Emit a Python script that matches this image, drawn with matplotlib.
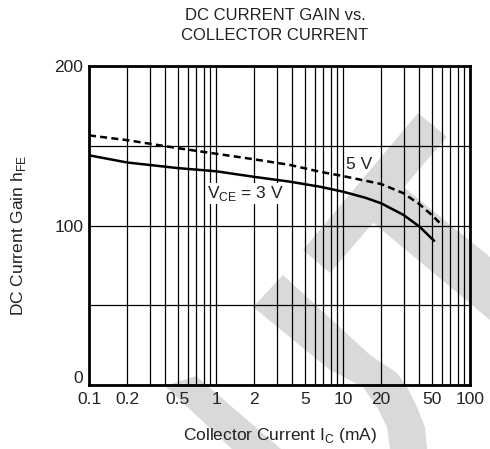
import matplotlib
matplotlib.use("Agg")
import matplotlib.pyplot as plt
import matplotlib.transforms as mtransforms
from matplotlib.patches import Polygon
from matplotlib.ticker import FixedLocator, NullFormatter

plt.rcParams['font.family'] = ['Liberation Sans', 'DejaVu Sans']
plt.rcParams['mathtext.fontset'] = 'custom'
plt.rcParams['mathtext.rm'] = 'Liberation Sans'

# VCE = 3 V (solid)
ic_3v = [0.1, 0.2, 0.5, 1, 2, 3.8, 6.6, 10, 15, 20, 30, 40, 52]
hfe_3v = [144, 139.5, 136, 134, 130.5, 127.5, 124.3, 121.2, 117.4, 113.9,
          106.6, 99.3, 90.5]

# VCE = 5 V (dashed)
ic_5v = [0.1, 0.2, 0.5, 1, 2, 3.8, 6.6, 10, 20, 30, 40, 50, 60]
hfe_5v = [156.5, 153.5, 148.5, 145, 141.5, 138, 133.7, 131, 126, 120.2,
          113.3, 106.6, 100.3]

x_ticks = [0.1, 0.2, 0.5, 1, 2, 5, 10, 20, 50, 100]
x_tick_labels = ['0.1', '0.2', '0.5', '1', '2', '5', '10', '20', '50', '100']
y_ticks = [0, 100, 200]
y_grid = [50, 150]

TXT = '#222222'
W, H = 490, 449
fig = plt.figure(figsize=(W / 100, H / 100), dpi=100)

# light grey watermark strokes behind the chart (pixel coords, y down)
wm_shapes = [
    [(418, 113), (447, 137), (330, 273), (303, 250)],
    [(395, 180), (490, 257), (490, 320), (365, 216)],
    [(283, 275), (370, 355), (397, 373), (407, 387), (417, 407), (425, 427),
     (427, 449), (390, 449), (387, 427), (377, 407), (363, 387), (330, 370),
     (253, 307)],
    [(165, 386), (196, 376), (281, 449), (232, 449)],
]
for pts in wm_shapes:
    poly = Polygon([(x / W, 1 - y / H) for x, y in pts], closed=True,
                   transform=fig.transFigure, facecolor='#d9d9d9',
                   edgecolor='none', zorder=-1)
    fig.patches.append(poly)

ax = fig.add_axes([89 / W, 1 - 385 / H, (470 - 89) / W, (385 - 66) / H])
ax.set_facecolor('none')
ax.set_xscale('log')
ax.set_xlim(0.1, 100)
ax.set_ylim(0, 200)

ax.set_xticks(x_ticks)
ax.set_xticklabels(x_tick_labels)
ax.xaxis.set_minor_locator(FixedLocator(
    [m * 10.0 ** e for e in (-1, 0, 1) for m in range(2, 10)]))
ax.xaxis.set_minor_formatter(NullFormatter())
ax.set_yticks(y_ticks)
ax.set_yticks(y_grid, minor=True)
ax.tick_params(which='both', length=0, labelsize=12.5, colors=TXT)
ax.tick_params(axis='x', pad=5)
ax.tick_params(axis='y', pad=4)
ax.grid(True, which='both', color='black', linewidth=0.9)
ax.set_axisbelow(True)
for s in ax.spines.values():
    s.set_linewidth(2)

# the "0" label sits just above the bottom axis line
zero_lbl = ax.get_yticklabels()[0]
zero_lbl.set_transform(zero_lbl.get_transform() +
                       mtransforms.ScaledTranslation(0, 6 / 72, fig.dpi_scale_trans))

ax.plot(ic_3v, hfe_3v, color='black', linewidth=1.8, zorder=3)
ax.plot(ic_5v, hfe_5v, color='black', linewidth=1.8, linestyle=(0, (2.8, 1.7)),
        zorder=3)

ax.text(13.5, 138, '5 V', fontsize=12.5, color=TXT, ha='center',
        va='center', zorder=4)
ax.text(1.7, 120, r'V$_{\mathregular{CE}}$ = 3 V', fontsize=12.5,
        color=TXT, ha='center', va='center', zorder=4,
        bbox=dict(facecolor='white', edgecolor='none', pad=0.5))

ax.set_xlabel(r'Collector Current I$_{\mathregular{C}}$ (mA)', fontsize=12.5,
              color=TXT, labelpad=14)
ax.set_ylabel(r'DC Current Gain h$_{\mathregular{FE}}$', fontsize=12.5,
              color=TXT)
ax.yaxis.set_label_coords(-0.16, 0.47)

fig.text(275 / W, 1 - 15 / H, 'DC CURRENT GAIN vs.', fontsize=12,
         color=TXT, ha='center', va='center')
fig.text(275 / W, 1 - 35 / H, 'COLLECTOR CURRENT', fontsize=12,
         color=TXT, ha='center', va='center')

fig.savefig('out.png', dpi=100)
